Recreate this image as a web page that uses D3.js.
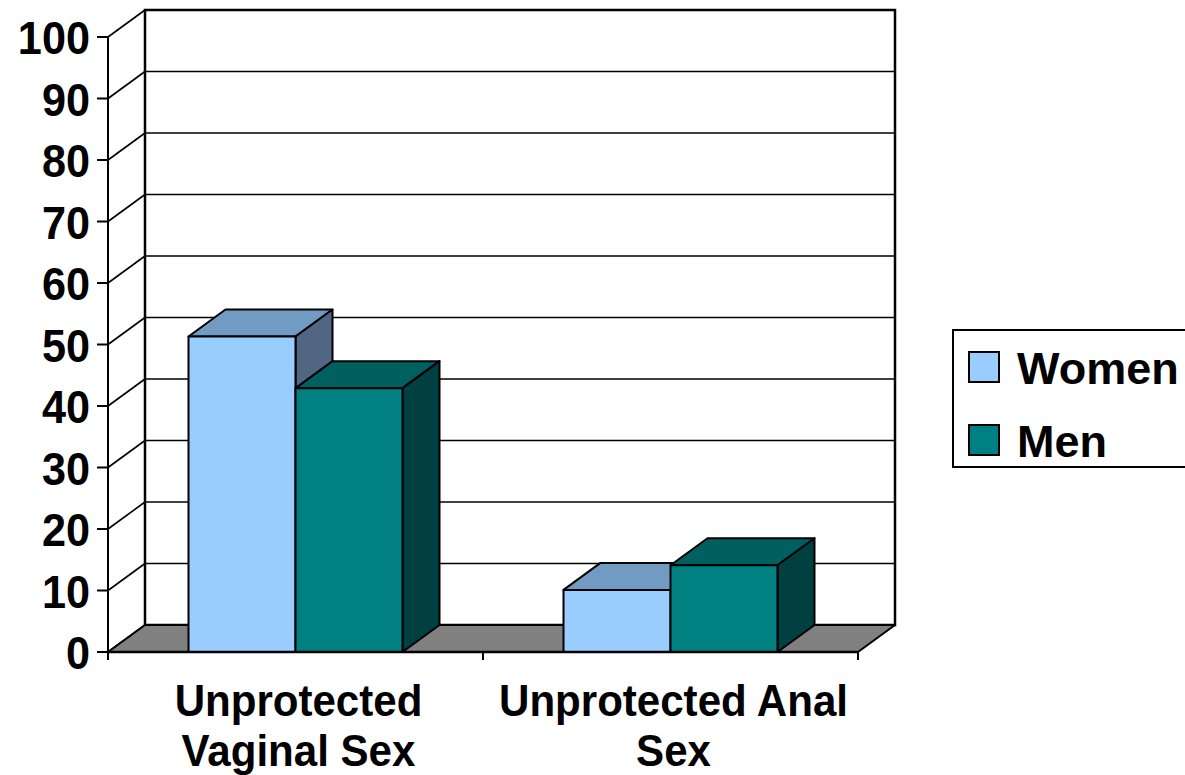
<!DOCTYPE html>
<html>
<head>
<meta charset="utf-8">
<script src="https://cdn.jsdelivr.net/npm/d3@7"></script>
<style>
  body { margin: 0; background: #fff; }
  text { font-family: "Liberation Sans", Arial, sans-serif; font-weight: bold; fill: #000; }
</style>
</head>
<body>
<script>
const categories = ['Unprotected Vaginal Sex', 'Unprotected Anal Sex'];
const categoryLines = [['Unprotected', 'Vaginal Sex'], ['Unprotected Anal', 'Sex']];
const seriesNames = ['Women', 'Men'];
const women = [51.3, 10.1];
const men = [42.9, 14.1];
const yTicks = [0, 10, 20, 30, 40, 50, 60, 70, 80, 90, 100];

const width = 1185;
const height = 775;
const plot = { left: 108, right: 858, top: 37, bottom: 652 };
const depth = { dx: 37, dy: -27 };

const colors = {
  Women: { front: '#99ccff', top: '#729bc3', side: '#506682' },
  Men: { front: '#008080', top: '#006060', side: '#004040' }
};

const svg = d3.select('body').append('svg')
  .attr('width', width)
  .attr('height', height);

const yScale = d3.scaleLinear()
  .domain([0, 100])
  .range([plot.bottom, plot.top]);

const xScale = d3.scaleBand()
  .domain(categories)
  .range([plot.left, plot.right]);

const groupWidth = 214;
const seriesScale = d3.scaleBand()
  .domain(seriesNames)
  .range([0, groupWidth]);

const pts = arr => arr.map(p => p.join(',')).join(' ');

// back wall
const backL = plot.left + depth.dx;
const backR = plot.right + depth.dx;
svg.append('rect')
  .attr('x', backL)
  .attr('y', yScale(100) + depth.dy)
  .attr('width', backR - backL)
  .attr('height', yScale(0) - yScale(100))
  .attr('fill', '#fff');

// gridlines on back wall and side wall
yTicks.forEach((t) => {
  const y = yScale(t);
  svg.append('line')
    .attr('x1', backL).attr('x2', backR)
    .attr('y1', y + depth.dy).attr('y2', y + depth.dy)
    .attr('stroke', '#000').attr('stroke-width', 1.6);
  svg.append('line')
    .attr('x1', plot.left).attr('x2', backL)
    .attr('y1', y).attr('y2', y + depth.dy)
    .attr('stroke', '#000').attr('stroke-width', 1.6);
});

svg.append('rect')
  .attr('x', backL)
  .attr('y', yScale(100) + depth.dy)
  .attr('width', backR - backL)
  .attr('height', yScale(0) - yScale(100))
  .attr('fill', 'none')
  .attr('stroke', '#000')
  .attr('stroke-width', 2.5);

// floor
const y0 = yScale(0);
svg.append('polygon')
  .attr('points', pts([[plot.left, y0], [plot.right, y0], [backR, y0 + depth.dy], [backL, y0 + depth.dy]]))
  .attr('fill', '#808080')
  .attr('stroke', '#000')
  .attr('stroke-width', 2)
  .attr('stroke-linejoin', 'round');

// y axis
svg.append('line')
  .attr('x1', plot.left).attr('x2', plot.left)
  .attr('y1', yScale(100)).attr('y2', y0 + 8)
  .attr('stroke', '#000').attr('stroke-width', 2);

yTicks.forEach((t) => {
  const y = yScale(t);
  svg.append('line')
    .attr('x1', plot.left - 11).attr('x2', plot.left)
    .attr('y1', y).attr('y2', y)
    .attr('stroke', '#000').attr('stroke-width', 2);
  svg.append('text')
    .attr('transform', `translate(${plot.left - 18}, ${y + 17}) scale(0.92, 1)`)
    .attr('text-anchor', 'end')
    .attr('font-size', 47)
    .text(t);
});

// x axis ticks
xScale.domain().forEach((c) => {
  const x = xScale(c) + xScale.bandwidth();
  svg.append('line')
    .attr('x1', x).attr('x2', x)
    .attr('y1', y0).attr('y2', y0 + 8)
    .attr('stroke', '#000').attr('stroke-width', 2);
});

// bars
const seriesData = { Women: women, Men: men };
categories.forEach((c, i) => {
  const gx = xScale(c) + (xScale.bandwidth() - groupWidth) / 2;
  seriesNames.forEach((s) => {
    const v = seriesData[s][i];
    const x1 = gx + seriesScale(s);
    const x2 = x1 + seriesScale.bandwidth();
    const yt = yScale(v);
    const col = colors[s];
    const g = svg.append('g')
      .attr('stroke', '#000')
      .attr('stroke-width', 2)
      .attr('stroke-linejoin', 'round');
    g.append('polygon')
      .attr('points', pts([[x1, yt], [x2, yt], [x2 + depth.dx, yt + depth.dy], [x1 + depth.dx, yt + depth.dy]]))
      .attr('fill', col.top);
    g.append('polygon')
      .attr('points', pts([[x2, yt], [x2 + depth.dx, yt + depth.dy], [x2 + depth.dx, y0 + depth.dy], [x2, y0]]))
      .attr('fill', col.side);
    g.append('rect')
      .attr('x', x1).attr('y', yt)
      .attr('width', x2 - x1).attr('height', y0 - yt)
      .attr('fill', col.front);
  });
});

// front floor edge on top
svg.append('line')
  .attr('x1', plot.left).attr('x2', plot.right)
  .attr('y1', y0).attr('y2', y0)
  .attr('stroke', '#000').attr('stroke-width', 2.5);

// category labels
categories.forEach((c, i) => {
  const cx = xScale(c) + xScale.bandwidth() / 2;
  categoryLines[i].forEach((line, j) => {
    svg.append('text')
      .attr('transform', `translate(${cx + 3}, ${716 + j * 50}) scale(0.935, 1)`)
      .attr('text-anchor', 'middle')
      .attr('font-size', 45)
      .text(line);
  });
});

// legend
const legend = svg.append('g').attr('transform', 'translate(953, 330)');
legend.append('rect')
  .attr('x', 0).attr('y', 0)
  .attr('width', 260).attr('height', 137)
  .attr('fill', '#fff')
  .attr('stroke', '#000')
  .attr('stroke-width', 2);
seriesNames.forEach((s, i) => {
  const y = 22 + i * 73;
  legend.append('rect')
    .attr('x', 16).attr('y', y)
    .attr('width', 30).attr('height', 30)
    .attr('fill', colors[s].front)
    .attr('stroke', '#000')
    .attr('stroke-width', 2);
  legend.append('text')
    .attr('transform', `translate(64, ${y + 32})`)
    .attr('font-size', 45)
    .text(s);
});
</script>
</body>
</html>
